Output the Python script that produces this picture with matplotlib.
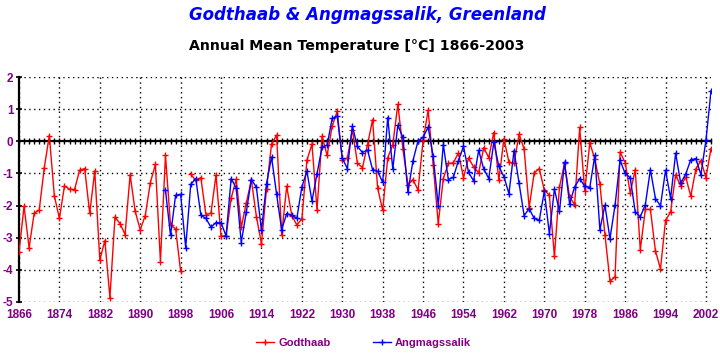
import numpy as np
import matplotlib
matplotlib.use("Agg")
import matplotlib.pyplot as plt
from matplotlib.ticker import MultipleLocator, FixedLocator

# ---- data ----
godthaab_start = 1866
godthaab = [
    -3.45, -2.02, -3.31, -2.24, -2.14, -0.83, 0.18, -1.70, -2.40, -1.39,   # 1866-1875
    -1.49, -1.50, -0.90, -0.85, -2.24, -0.92, -3.69, -3.09, -4.86, -2.36,  # 1876-1885
    -2.56, -2.90, -1.04, -2.18, -2.75, -2.31, -1.29, -0.72, -3.74, -0.44,  # 1886-1895
    -2.61, -2.72, -4.04, np.nan, -1.03, -1.21, -1.13, -2.28, -2.24, -1.05, # 1896-1905
    -2.95, -2.94, -1.77, -1.18, -2.68, -1.92, -1.20, -2.34, -3.19, -1.48,  # 1906-1915
    -0.08, 0.19, -2.90, -1.40, -2.31, -2.60, -2.42, -0.59, -0.09, -2.13,   # 1916-1925
    0.16, -0.44, 0.47, 0.93, -0.57, -0.53, 0.36, -0.68, -0.82, -0.10,      # 1926-1935
    0.67, -1.45, -2.15, -0.51, -0.11, 1.15, -0.23, -1.36, -1.19, -1.52,    # 1936-1945
    0.03, 0.96, -0.73, -2.56, -1.16, -0.69, -0.67, -0.36, -1.13, -0.52,    # 1946-1955
    -0.80, -0.98, -0.20, -0.51, 0.27, -1.21, 0.08, -0.65, -0.69, 0.22,     # 1956-1965
    -0.24, -2.06, -0.98, -0.85, -1.52, -1.68, -3.58, -1.42, -0.69, -1.73,  # 1966-1975
    -1.97, 0.43, -1.55, -0.05, -0.55, -1.33, -2.90, -4.35, -4.22, -0.34,   # 1976-1985
    -0.66, -1.60, -0.89, -3.37, -2.12, -2.12, -3.41, -3.97, -2.46, -2.20,  # 1986-1995
    -1.04, -1.39, -1.12, -1.71, -0.86, -0.60, -1.13, -0.23,                # 1996-2003
]

angmagssalik_start = 1895
angmagssalik = [
    -1.52, -2.93, -1.68, -1.65, -3.31,                                      # 1895-1899
    -1.34, -1.16, -2.30, -2.40, -2.67, -2.53, -2.53, -2.95, -1.16, -1.45,  # 1900-1909
    -3.15, -2.20, -1.19, -1.43, -2.77, -1.32, -0.49, -1.65, -2.75, -2.25,  # 1910-1919
    -2.30, -2.40, -1.42, -0.93, -1.86, -1.01, -0.18, -0.12, 0.71, 0.78,    # 1920-1929
    -0.52, -0.85, 0.47, -0.16, -0.35, -0.27, -0.88, -0.93, -1.28, 0.74,    # 1930-1939
    -0.86, 0.50, 0.12, -1.58, -0.60, 0.01, 0.12, 0.44, -0.47, -2.00,       # 1940-1949
    -0.10, -1.19, -1.12, -0.60, -0.16, -0.97, -1.23, -0.28, -0.86, -1.16,  # 1950-1959
    -0.03, -0.78, -1.10, -1.63, -0.29, -1.30, -2.31, -2.10, -2.40, -2.46,  # 1960-1969
    -1.55, -2.88, -1.49, -2.18, -0.65, -1.94, -1.42, -1.16, -1.40, -1.44,  # 1970-1979
    -0.44, -2.75, -1.99, -3.03, -1.99, -0.59, -1.00, -1.13, -2.20, -2.35,  # 1980-1989
    -1.97, -0.88, -1.78, -2.01, -0.90, -1.78, -0.37, -1.30, -1.02, -0.57,  # 1990-1999
    -0.54, -1.04, 0.03, 1.56,                                              # 2000-2003
]

xticks = list(range(1866, 2003, 8))
yticks = [-5, -4, -3, -2, -1, 0, 1, 2]

title = "Godthaab & Angmagssalik, Greenland"
subtitle = "Annual Mean Temperature [°C] 1866-2003"
labels = ["Godthaab", "Angmagssalik"]

# ---- plot ----
plt.rcParams["axes.unicode_minus"] = False
PURPLE = "#800080"
LAB_FONT = ["Liberation Sans", "DejaVu Sans"]
years_g = np.arange(godthaab_start, godthaab_start + len(godthaab))
years_a = np.arange(angmagssalik_start, angmagssalik_start + len(angmagssalik))

fig = plt.figure(figsize=(7.2, 3.6), dpi=100)
fig.patch.set_facecolor("white")
ax = fig.add_axes([19 / 720, 1 - 302 / 360, (711 - 19) / 720, (302 - 77) / 360])

ax.set_xlim(1866, 2003)
ax.set_ylim(-5, 2)

ax.plot(years_g, godthaab, color="#ff0000", lw=1.0, marker="+", ms=4, mew=1.0,
        label=labels[0], zorder=3)
ax.plot(years_a, angmagssalik, color="#0000ff", lw=1.0, marker="+", ms=4, mew=1.0,
        label=labels[1], zorder=4)

# zero line with yearly ticks
for s in ["top", "right"]:
    ax.spines[s].set_visible(False)
ax.spines["bottom"].set_position(("data", 0))
ax.spines["bottom"].set_linewidth(1.6)
ax.spines["left"].set_linewidth(1.6)
ax.xaxis.set_major_locator(FixedLocator(xticks))
ax.xaxis.set_minor_locator(MultipleLocator(1))
ax.tick_params(axis="x", which="both", direction="inout", length=5, width=1.0,
               labelbottom=False, color="black")
ax.yaxis.set_major_locator(FixedLocator(yticks))
ax.tick_params(axis="y", direction="inout", length=4, width=1.2, pad=2,
               labelcolor=PURPLE, labelsize=8.5)
for lab in ax.get_yticklabels():
    lab.set_fontweight("bold")
    lab.set_family(LAB_FONT)

ax.grid(True, which="major", color="black", linestyle=(0, (1, 2.5)), linewidth=1.0)
ax.set_axisbelow(True)

sec = ax.secondary_xaxis(0)
sec.set_xticks(xticks)
sec.spines["bottom"].set_visible(False)
sec.tick_params(length=0, pad=5, labelcolor=PURPLE, labelsize=8.5)
for lab in sec.get_xticklabels():
    lab.set_fontweight("bold")
    lab.set_family(LAB_FONT)

fig.text(0.51, 0.958, title, color="#0000ff", fontsize=12, fontweight="bold",
         ha="center", va="center", fontstyle="italic")
fig.text(0.496, 0.872, subtitle, color="black", fontsize=10.2, fontweight="bold",
         ha="center", va="center")

fig.legend(loc="center", bbox_to_anchor=(0.505, 0.047), ncol=2, frameon=False,
           handlelength=1.6, handletextpad=0.4, columnspacing=3.8,
           prop={"weight": "bold", "size": 8, "family": LAB_FONT}, labelcolor=PURPLE)

fig.savefig("out.png", dpi=100, facecolor="white")
